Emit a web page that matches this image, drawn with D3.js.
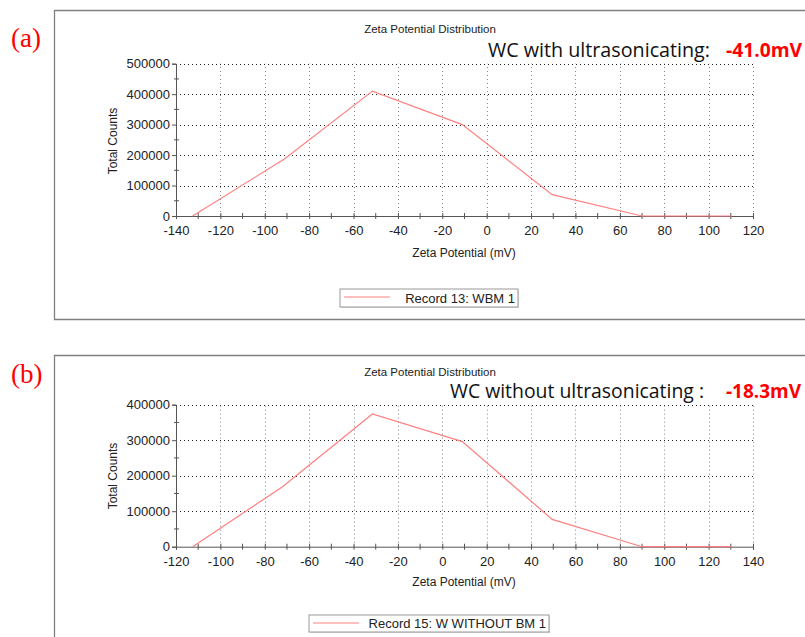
<!DOCTYPE html>
<html>
<head>
<meta charset="utf-8">
<script src="https://cdn.jsdelivr.net/npm/d3@7/dist/d3.min.js"></script>
<style>
  html, body { margin: 0; padding: 0; background: #fff; }
  svg { display: block; }
  .tick-label { font-family: "Liberation Sans", Arial, sans-serif; font-size: 13px; fill: #222; }
  .axis-title { font-family: "Liberation Sans", Arial, sans-serif; font-size: 12px; fill: #222; }
  .chart-title { font-family: "Liberation Sans", Arial, sans-serif; font-size: 11.5px; fill: #222; }
  .note { font-family: "Open Sans", "Noto Sans", sans-serif; font-size: 20px; fill: #111; }
  .note-val { font-family: "Open Sans", "Noto Sans", sans-serif; font-size: 19px; font-weight: bold; fill: #ff0000; }
  .panel-tag { font-family: "Liberation Serif", "Times New Roman", serif; font-size: 27px; fill: #ff0000; }
  .legend-text { font-family: "Liberation Sans", Arial, sans-serif; font-size: 13px; fill: #222; }
</style>
</head>
<body>
<svg id="chart" width="805" height="637"></svg>
<script>
// Panel (a): WC with ultrasonicating
const zetaA   = [-132.5, -91, -51.5, -11, 29.5, 70, 110.5];
const countsA = [0, 188000, 410000, 300000, 70000, 0, 0];
const xTicksA = [-140, -120, -100, -80, -60, -40, -20, 0, 20, 40, 60, 80, 100, 120];
const yTicksA = [0, 100000, 200000, 300000, 400000, 500000];

// Panel (b): WC without ultrasonicating
const zetaB   = [-112.5, -72, -31.5, 9, 49.5, 90, 130.5];
const countsB = [0, 169000, 374000, 296000, 77000, 0, 0];
const xTicksB = [-120, -100, -80, -60, -40, -20, 0, 20, 40, 60, 80, 100, 120, 140];
const yTicksB = [0, 100000, 200000, 300000, 400000];

const titles   = ["Zeta Potential Distribution", "Zeta Potential Distribution"];
const notes    = ["WC with ultrasonicating:", "WC without ultrasonicating :"];
const values   = ["-41.0mV", "-18.3mV"];
const tags     = ["(a)", "(b)"];
const records  = ["Record 13: WBM 1", "Record 15: W WITHOUT BM 1"];

const svg = d3.select("#chart");
const lineColor = "#ff8080";
const plainNumber = d => String(d);   // hyphen-minus, as the instrument software prints it

function drawPanel(cfg) {
  const g = svg.append("g");

  // outer frame (runs off the right edge)
  const fr = cfg.frame;
  const framePath = d3.path();
  framePath.moveTo(900, fr.top);
  framePath.lineTo(fr.left, fr.top);
  framePath.lineTo(fr.left, fr.bottom);
  if (fr.closeBottom) framePath.lineTo(900, fr.bottom);
  g.append("path").attr("d", framePath.toString())
    .attr("fill", "none").attr("stroke", "#808080").attr("stroke-width", 1.3);

  const x = d3.scaleLinear().domain(d3.extent(cfg.xTicks)).range([cfg.plot.left, cfg.plot.right]);
  const y = d3.scaleLinear().domain(d3.extent(cfg.yTicks)).range([cfg.plot.bottom, cfg.plot.top]);

  // dotted grid
  g.append("g").selectAll("line").data(cfg.yTicks.filter(d => d > 0)).join("line")
    .attr("x1", x.range()[0]).attr("x2", x.range()[1])
    .attr("y1", d => Math.round(y(d)) + 0.5).attr("y2", d => Math.round(y(d)) + 0.5)
    .attr("stroke", "#222").attr("stroke-width", 1).attr("stroke-dasharray", "1,3");
  g.append("g").selectAll("line").data(cfg.xTicks.slice(1)).join("line")
    .attr("x1", d => Math.round(x(d)) + 0.5).attr("x2", d => Math.round(x(d)) + 0.5)
    .attr("y1", y.range()[0]).attr("y2", y.range()[1])
    .attr("stroke", "#888").attr("stroke-width", 1).attr("stroke-dasharray", "1,3");

  // y axis
  const yAxis = d3.axisLeft(y).tickValues(cfg.yTicks).tickSize(4).tickPadding(2).tickFormat(plainNumber);
  const ya = g.append("g").attr("transform", `translate(${cfg.plot.left},0)`).call(yAxis);
  ya.select(".domain").attr("stroke", "#555");
  ya.selectAll(".tick line").attr("stroke", "#555");
  ya.selectAll(".tick text").attr("class", "tick-label");
  ya.attr("font-size", null).attr("font-family", null);

  // y minor ticks
  const yMinor = d3.range(cfg.yTicks[0] + 50000, cfg.yTicks[cfg.yTicks.length - 1], 100000);
  g.append("g").selectAll("line").data(yMinor).join("line")
    .attr("x1", cfg.plot.left - 2).attr("x2", cfg.plot.left + 3)
    .attr("y1", d => y(d)).attr("y2", d => y(d))
    .attr("stroke", "#555");

  // x axis
  const xAxis = d3.axisBottom(x).tickValues(cfg.xTicks).tickSize(3).tickPadding(7).tickFormat(plainNumber);
  const xa = g.append("g").attr("transform", `translate(0,${cfg.plot.bottom})`).call(xAxis);
  xa.select(".domain").attr("stroke", "#555");
  xa.selectAll(".tick line").attr("stroke", "#555").attr("y1", -3);
  xa.selectAll(".tick text").attr("class", "tick-label");
  xa.attr("font-size", null).attr("font-family", null);
  // x minor ticks
  const xs = cfg.xTicks;
  const xMinor = d3.range(xs[0] + 10, xs[xs.length - 1], 20);
  g.append("g").selectAll("line").data(xMinor).join("line")
    .attr("x1", d => x(d)).attr("x2", d => x(d))
    .attr("y1", cfg.plot.bottom - 3).attr("y2", cfg.plot.bottom + 3)
    .attr("stroke", "#555");

  // data line
  const pts = cfg.zeta.map((v, i) => [v, cfg.counts[i]]);
  g.append("path").datum(pts)
    .attr("d", d3.line().x(d => x(d[0])).y(d => y(d[1])))
    .attr("fill", "none").attr("stroke", lineColor).attr("stroke-width", 1.2);

  // axis titles
  g.append("text").attr("class", "axis-title")
    .attr("x", cfg.xTitle.x).attr("y", cfg.xTitle.y).attr("text-anchor", "middle")
    .text("Zeta Potential (mV)");
  g.append("text").attr("class", "axis-title")
    .attr("transform", `translate(${cfg.yTitle.x},${cfg.yTitle.y}) rotate(-90)`)
    .attr("text-anchor", "middle").text("Total Counts");

  // chart title
  g.append("text").attr("class", "chart-title")
    .attr("x", cfg.title.x).attr("y", cfg.title.y).attr("text-anchor", "middle")
    .text(cfg.titleText);

  // annotation
  g.append("text").attr("class", "note")
    .attr("x", cfg.note.x).attr("y", cfg.note.y)
    .attr("textLength", cfg.note.w).attr("lengthAdjust", "spacingAndGlyphs")
    .text(cfg.noteText);
  g.append("text").attr("class", "note-val")
    .attr("x", cfg.val.x).attr("y", cfg.note.y)
    .attr("textLength", cfg.val.w).attr("lengthAdjust", "spacingAndGlyphs")
    .text(cfg.valText);

  // panel tag
  g.append("text").attr("class", "panel-tag")
    .attr("x", cfg.tag.x).attr("y", cfg.tag.y).text(cfg.tagText);

  // legend
  const lg = cfg.legend;
  g.append("rect").attr("x", lg.x + 1).attr("y", lg.y + 1).attr("width", lg.w).attr("height", lg.h)
    .attr("fill", "#ddd");
  g.append("rect").attr("x", lg.x).attr("y", lg.y).attr("width", lg.w).attr("height", lg.h)
    .attr("fill", "#fff").attr("stroke", "#999");
  g.append("line").attr("x1", lg.x + 4).attr("x2", lg.x + lg.lineW)
    .attr("y1", lg.y + 8).attr("y2", lg.y + 8)
    .attr("stroke", lineColor).attr("stroke-width", 1.2);
  g.append("text").attr("class", "legend-text")
    .attr("x", lg.x + lg.w - 3).attr("y", lg.y + lg.h - 4).attr("text-anchor", "end")
    .text(cfg.recordText);
}

drawPanel({
  frame: { left: 54.5, top: 10.5, bottom: 319.5, closeBottom: true },
  plot: { left: 176, right: 753, top: 63.7, bottom: 216 },
  xTicks: xTicksA, yTicks: yTicksA, zeta: zetaA, counts: countsA,
  xTitle: { x: 464, y: 257 }, yTitle: { x: 117, y: 141 },
  title: { x: 430, y: 33 }, titleText: titles[0],
  note: { x: 488, y: 57, w: 222 }, noteText: notes[0],
  val: { x: 726, w: 76 }, valText: values[0],
  tag: { x: 11, y: 47 }, tagText: tags[0],
  legend: { x: 340, y: 289, w: 178, h: 18, lineW: 50 }, recordText: records[0]
});

drawPanel({
  frame: { left: 54.5, top: 355.5, bottom: 700, closeBottom: false },
  plot: { left: 176, right: 753, top: 404.7, bottom: 546.7 },
  xTicks: xTicksB, yTicks: yTicksB, zeta: zetaB, counts: countsB,
  xTitle: { x: 464, y: 586 }, yTitle: { x: 117, y: 476 },
  title: { x: 430, y: 376 }, titleText: titles[1],
  note: { x: 450, y: 398, w: 254 }, noteText: notes[1],
  val: { x: 726, w: 75 }, valText: values[1],
  tag: { x: 11, y: 383 }, tagText: tags[1],
  legend: { x: 309, y: 615, w: 240, h: 17, lineW: 50 }, recordText: records[1]
});
</script>
</body>
</html>
